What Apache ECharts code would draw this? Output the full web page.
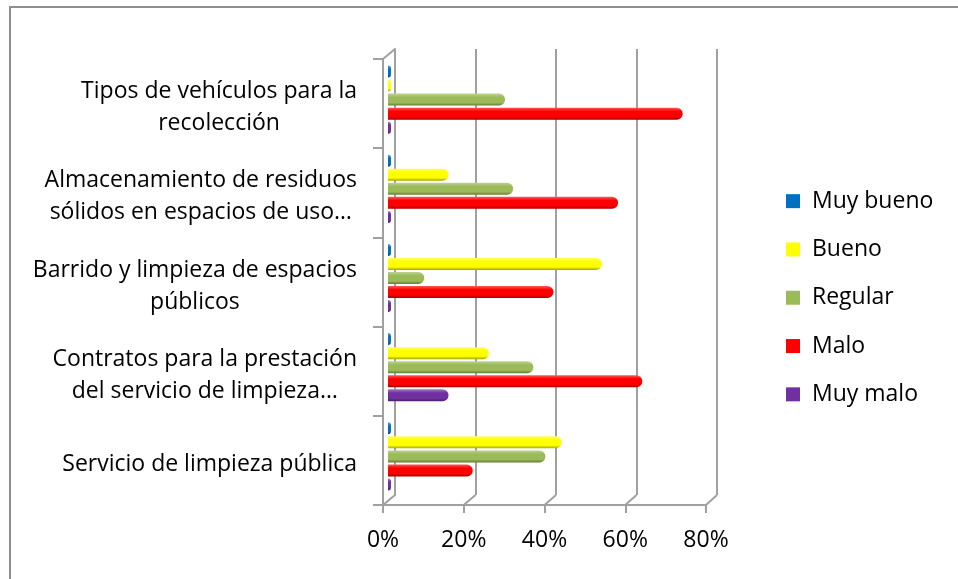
<!DOCTYPE html>
<html>
<head>
<meta charset="utf-8">
<script src="https://cdn.jsdelivr.net/npm/echarts@6/dist/echarts.min.js"></script>
<style>
html, body { margin: 0; padding: 0; background: #fff; }
#main { width: 958px; height: 579px; }
</style>
</head>
<body>
<div id="main"></div>
<script>
// datos (porcentajes)
var categories = [
    'Tipos de vehículos para la\nrecolección',
    'Almacenamiento de residuos\nsólidos en espacios de uso…',
    'Barrido y limpieza de espacios\npúblicos',
    'Contratos para la prestación\ndel servicio de limpieza…',
    'Servicio de limpieza pública'
];
var seriesNames = ['Muy bueno', 'Bueno', 'Regular', 'Malo', 'Muy malo'];
var muyBueno = [0, 0, 0, 0, 0];
var bueno = [0, 15, 53, 25, 43];
var regular = [29, 31, 9, 36, 39];
var malo = [73, 57, 41, 63, 21];
var muyMalo = [0, 0, 0, 15, 0];
var xTicks = [0, 20, 40, 60, 80];

var colors = ['#0070C0', '#FFFF00', '#9BBB59', '#FF0000', '#7030A0'];
var font = '"Open Sans", Lato, sans-serif';
var fontSize = 23;
var gridColor = '#a0a0a0';

// paredes del falso 3D
var back = { left: 395, top: 49, width: 322, height: 446 };
var front = { left: 383, top: 59, width: 323, height: 446 };
var bars = { left: 388, top: 55, width: 323, height: 446 };

function shade(hex, f) {
    var r = parseInt(hex.substr(1, 2), 16), g = parseInt(hex.substr(3, 2), 16), b = parseInt(hex.substr(5, 2), 16);
    function c(v) {
        v = f > 0 ? v + (255 - v) * f : v * (1 + f);
        return Math.round(Math.max(0, Math.min(255, v)));
    }
    return 'rgb(' + c(r) + ',' + c(g) + ',' + c(b) + ')';
}

function cylinder(hex) {
    return new echarts.graphic.LinearGradient(0, 0, 0, 1, [
        { offset: 0, color: shade(hex, 0.35) },
        { offset: 0.3, color: hex },
        { offset: 0.75, color: hex },
        { offset: 1, color: shade(hex, -0.35) }
    ]);
}

var values = [muyBueno, bueno, regular, malo, muyMalo];

var chart = echarts.init(document.getElementById('main'));

var option = {
    backgroundColor: '#fff',
    animation: false,
    legend: {
        orient: 'vertical',
        left: 786,
        top: 187,
        padding: 0,
        itemWidth: 14,
        itemHeight: 14,
        itemGap: 20,
        icon: 'rect',
        textStyle: { fontFamily: font, fontSize: fontSize, color: '#000', lineHeight: 28.3, padding: [0, 0, 0, 7] },
        data: seriesNames.map(function (n, i) {
            return { name: n, itemStyle: { color: colors[i] } };
        })
    },
    grid: [
        { left: back.left, top: back.top, width: back.width, height: back.height },
        { left: front.left, top: front.top, width: front.width, height: front.height },
        { left: bars.left, top: bars.top, width: bars.width, height: bars.height }
    ],
    xAxis: [
        {
            gridIndex: 0, type: 'value', min: 0, max: 80, interval: 20,
            axisLine: { show: false }, axisTick: { show: false }, axisLabel: { show: false },
            splitLine: { show: true, lineStyle: { color: gridColor, width: 2 } }
        },
        {
            gridIndex: 1, type: 'value', min: 0, max: 80, interval: 20,
            axisLine: { show: true, lineStyle: { color: gridColor, width: 2 } },
            axisTick: { show: true, length: 8, lineStyle: { color: gridColor, width: 2 } },
            axisLabel: { formatter: '{value}%', fontFamily: font, fontSize: fontSize, color: '#000', margin: 24 },
            splitLine: { show: false }
        },
        {
            gridIndex: 2, type: 'value', min: 0, max: 80, show: false
        }
    ],
    yAxis: [
        {
            gridIndex: 0, type: 'category', inverse: true, data: categories,
            axisLine: { show: true, lineStyle: { color: gridColor, width: 2 } },
            axisTick: { show: false }, axisLabel: { show: false }
        },
        {
            gridIndex: 1, type: 'category', inverse: true, data: categories,
            axisLine: { show: true, lineStyle: { color: gridColor, width: 2 } },
            axisTick: { show: true, length: 10, lineStyle: { color: gridColor, width: 2 } },
            axisLabel: {
                margin: 26,
                padding: [8, 0, 0, 0],
                formatter: function (v) {
                    return v.split('\n').map(function (l) { return '{c|' + l + '}'; }).join('\n');
                },
                rich: {
                    c: { align: 'center', fontFamily: font, fontSize: fontSize, color: '#000', lineHeight: 32 }
                }
            }
        },
        {
            gridIndex: 2, type: 'category', inverse: true, data: categories, show: false
        }
    ],
    series: seriesNames.map(function (n, i) {
        return {
            name: n,
            type: 'bar',
            xAxisIndex: 2,
            yAxisIndex: 2,
            barWidth: 12,
            barGap: '17%',
            barMinHeight: 3,
            data: values[i],
            itemStyle: { color: cylinder(colors[i]), borderRadius: [0, 6, 6, 0] }
        };
    })
};

chart.setOption(option);

// diagonales del suelo y de la pared izquierda
var lines = [];
xTicks.forEach(function (v) {
    var fx = chart.convertToPixel({ xAxisIndex: 1 }, v);
    var bx = chart.convertToPixel({ xAxisIndex: 0 }, v);
    lines.push([fx, front.top + front.height, bx, back.top + back.height]);
});
lines.push([front.left, front.top, back.left, back.top]);

chart.setOption({
    graphic: [{
        type: 'rect',
        shape: { x: 10, y: 7, width: 1000, height: 1000 },
        style: { fill: 'none', stroke: '#8f8f8f', lineWidth: 2 },
        silent: true
    }].concat(lines.map(function (l) {
        return {
            type: 'line',
            shape: { x1: l[0], y1: l[1], x2: l[2], y2: l[3] },
            style: { stroke: gridColor, lineWidth: 2 },
            silent: true
        };
    }))
});
</script>
</body>
</html>
